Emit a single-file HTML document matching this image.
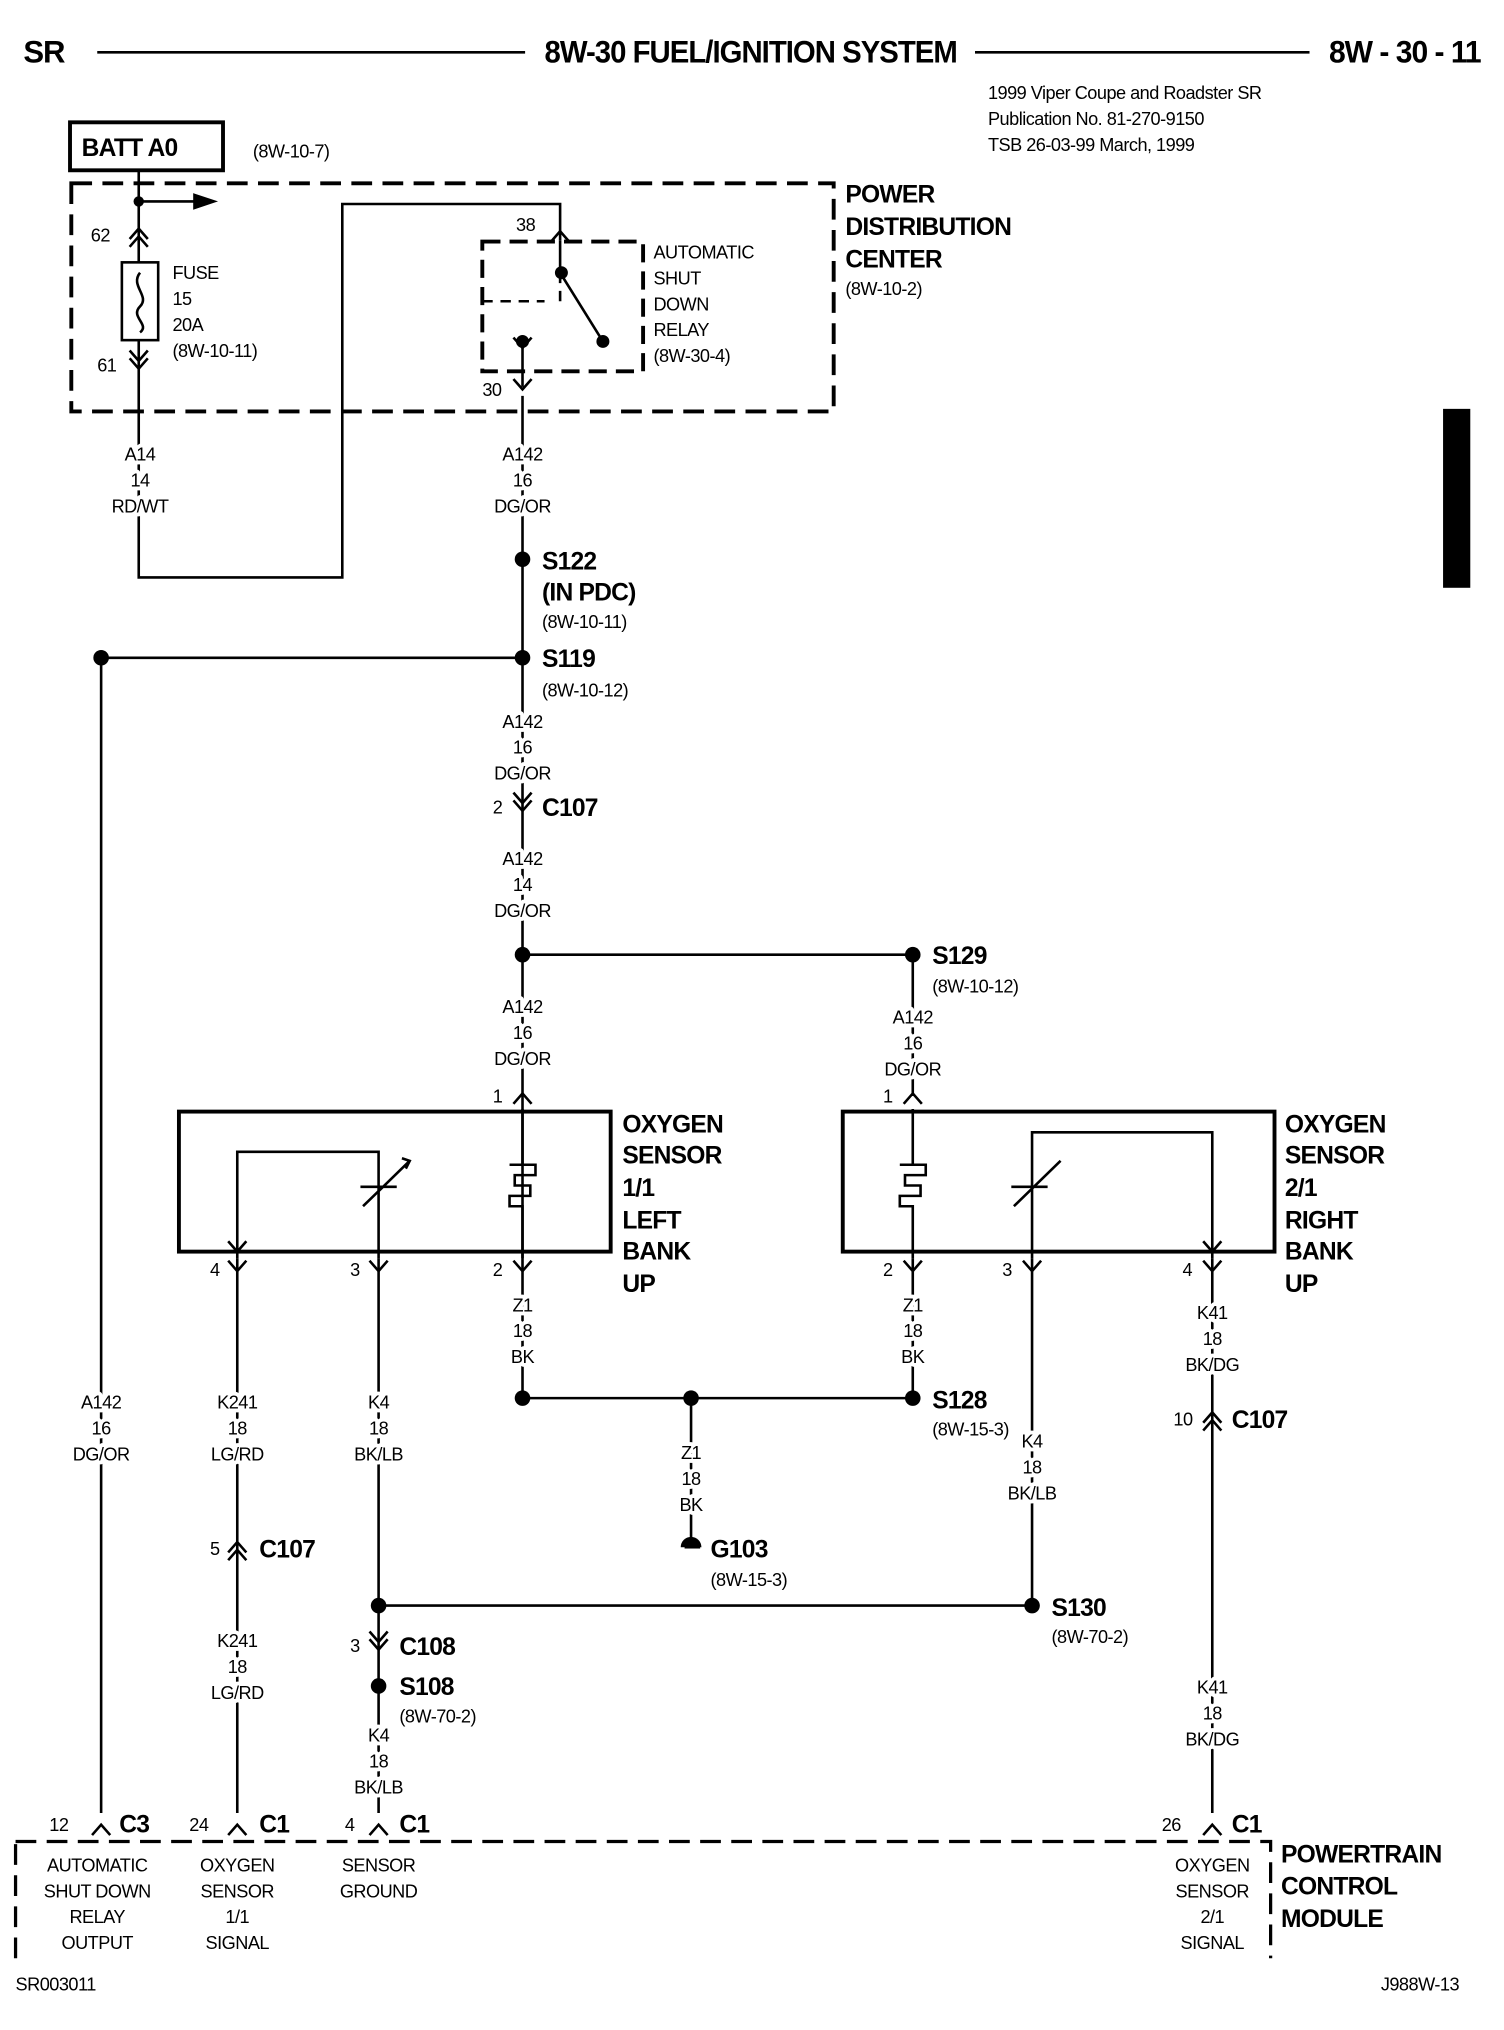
<!DOCTYPE html>
<html><head><meta charset="utf-8"><style>
html,body{margin:0;padding:0;background:#fff}
svg{display:block}
text{font-family:"Liberation Sans Narrow","Liberation Sans",sans-serif;fill:#000}
.s{font-size:14px;letter-spacing:-0.4px}
.c{text-anchor:middle;stroke:#fff;stroke-width:6px;paint-order:stroke;stroke-linejoin:round}
.b{font-weight:bold;font-size:19px;letter-spacing:-0.6px}
.h{font-weight:bold;font-size:24px;letter-spacing:-0.8px}
</style></head><body>
<svg width="1504" height="2030" viewBox="0 0 1160 1565" xmlns="http://www.w3.org/2000/svg">
<defs>
<g id="vd"><path d="M-7,-8 L0,0 L7,-8" fill="none" stroke="#000" stroke-width="2"/></g>
<g id="vu"><path d="M-7,8 L0,0 L7,8" fill="none" stroke="#000" stroke-width="2"/></g>
<g id="vdd"><path d="M-7,-10 L0,-2 L7,-10 M-7,-4 L0,4 L7,-4" fill="none" stroke="#000" stroke-width="2"/></g>
<g id="vuu"><path d="M-7,10 L0,2 L7,10 M-7,4 L0,-4 L7,4" fill="none" stroke="#000" stroke-width="2"/></g>
</defs>
<g stroke="#000" stroke-width="2" fill="none">
<line x1="75" y1="40" x2="405" y2="40"/><line x1="752" y1="40" x2="1010" y2="40"/>
<rect x="54" y="94" width="118" height="37" stroke-width="3"/>
<path d="M55,141 H643 V317 H55 Z" stroke-dasharray="16,8" stroke-width="3"/>
<path d="M372,186 H496 V286 H372 Z" stroke-dasharray="14,7" stroke-width="3"/>
<path d="M12,1420 H980 V1510 M12,1510 V1420" stroke-dasharray="16,8" stroke-width="2.5"/>
<path d="M107,131 V202 M107,262 V445 H264 V157 H432 V185"/>
<path d="M107,155 H155"/><path d="M150,150 L165,155 L150,160 Z" fill="#000"/>
<rect x="94" y="202" width="28" height="60"/>
<path d="M108,210 C100,220 116,228 108,236 C100,244 116,250 108,256"/>
<path d="M432,185 V210 L465,263"/>
<path d="M372,232 H420 M432,210 V232" stroke-dasharray="8,6"/>
<path d="M403,263 V298 M403,305 V1078"/>
<path d="M78,507 H403 M78,507 V1398"/>
<path d="M403,736 H704 V845"/>
<path d="M403,1078 H704 V970"/>
<path d="M533,1078 V1190"/>
<path d="M528,1193 H540"/>
<path d="M183,970 V1398 M292,970 V1398 M796,970 V1238 H292 M935,970 V1398"/>
<rect x="138" y="857" width="333" height="108" stroke-width="3"/>
<rect x="650" y="857" width="333" height="108" stroke-width="3"/>
<path d="M183,970 V888 H292 V970"/>
<path d="M403,855 V898 M393,898 H413 V906 H397 V914 H409 V922 H393 V930 H403 V970"/>
<path d="M704,855 V898 M694,898 H714 V906 H698 V914 H710 V922 H694 V930 H704 V970"/>
<path d="M280,930 L316,895 M278,915 H306"/><path d="M310,893 L316,895 L313,901" />
<path d="M935,970 V873 H796 V970"/>
<path d="M782,930 L818,895 M780,915 H808"/>
</g>
<rect x="1113" y="315" width="21" height="138" fill="#000"/>
<g fill="#000">
<circle cx="107" cy="155" r="4"/><circle cx="433" cy="210" r="5"/><circle cx="465" cy="263" r="5"/><circle cx="403" cy="263" r="5"/>
<circle cx="403" cy="431" r="6"/><circle cx="403" cy="507" r="6"/><circle cx="78" cy="507" r="6"/>
<circle cx="403" cy="736" r="6"/><circle cx="704" cy="736" r="6"/>
<circle cx="403" cy="1078" r="6"/><circle cx="533" cy="1078" r="6"/><circle cx="704" cy="1078" r="6"/>
<circle cx="796" cy="1238" r="6"/><circle cx="292" cy="1238" r="6"/><circle cx="292" cy="1300" r="6"/>
<path d="M525,1193 A8,8 0 0 1 541,1193 Z"/>
</g>
<use href="#vuu" x="107" y="180"/><use href="#vdd" x="107" y="280"/>
<use href="#vu" x="432" y="178"/><use href="#vd" x="403" y="300"/><use href="#vd" x="403" y="268"/>
<use href="#vdd" x="403" y="621"/>
<use href="#vu" x="403" y="843"/><use href="#vu" x="704" y="843"/>
<use href="#vd" x="183" y="980"/><use href="#vd" x="292" y="980"/><use href="#vd" x="403" y="980"/>
<use href="#vd" x="704" y="980"/><use href="#vd" x="796" y="980"/><use href="#vd" x="935" y="980"/>
<use href="#vd" x="183" y="965"/><use href="#vd" x="935" y="965"/>
<use href="#vuu" x="935" y="1093"/><use href="#vuu" x="183" y="1193"/><use href="#vdd" x="292" y="1268"/>
<use href="#vu" x="78" y="1407"/><use href="#vu" x="183" y="1407"/><use href="#vu" x="292" y="1407"/><use href="#vu" x="935" y="1407"/>
<text x="18" y="48" class="h">SR</text>
<text x="420" y="48" class="h" textLength="318" lengthAdjust="spacingAndGlyphs">8W-30 FUEL/IGNITION SYSTEM</text>
<text x="1025" y="48" class="h" textLength="117" lengthAdjust="spacingAndGlyphs">8W - 30 - 11</text>
<text x="762" y="76" class="s">1999 Viper Coupe and Roadster   SR</text>
<text x="762" y="96" class="s">Publication No. 81-270-9150</text>
<text x="762" y="116" class="s">TSB 26-03-99      March, 1999</text>
<text x="63" y="120" class="b">BATT A0</text>
<text x="195" y="121" class="s">(8W-10-7)</text>
<text x="652" y="156" class="b">POWER</text><text x="652" y="181" class="b">DISTRIBUTION</text><text x="652" y="206" class="b">CENTER</text>
<text x="652" y="227" class="s">(8W-10-2)</text>
<text x="70" y="186" class="s">62</text><text x="75" y="286" class="s">61</text>
<text x="133" y="215" class="s">FUSE</text><text x="133" y="235" class="s">15</text><text x="133" y="255" class="s">20A</text><text x="133" y="275" class="s">(8W-10-11)</text>
<text x="398" y="178" class="s">38</text><text x="372" y="305" class="s">30</text>
<text x="504" y="199" class="s">AUTOMATIC</text><text x="504" y="219" class="s">SHUT</text><text x="504" y="239" class="s">DOWN</text><text x="504" y="259" class="s">RELAY</text><text x="504" y="279" class="s">(8W-30-4)</text>
<text x="108" y="355" class="s c">A14</text><text x="108" y="375" class="s c">14</text><text x="108" y="395" class="s c">RD/WT</text>
<text x="403" y="355" class="s c">A142</text><text x="403" y="375" class="s c">16</text><text x="403" y="395" class="s c">DG/OR</text>
<text x="403" y="561" class="s c">A142</text><text x="403" y="581" class="s c">16</text><text x="403" y="601" class="s c">DG/OR</text>
<text x="403" y="667" class="s c">A142</text><text x="403" y="687" class="s c">14</text><text x="403" y="707" class="s c">DG/OR</text>
<text x="403" y="781" class="s c">A142</text><text x="403" y="801" class="s c">16</text><text x="403" y="821" class="s c">DG/OR</text>
<text x="704" y="789" class="s c">A142</text><text x="704" y="809" class="s c">16</text><text x="704" y="829" class="s c">DG/OR</text>
<text x="403" y="1011" class="s c">Z1</text><text x="403" y="1031" class="s c">18</text><text x="403" y="1051" class="s c">BK</text>
<text x="704" y="1011" class="s c">Z1</text><text x="704" y="1031" class="s c">18</text><text x="704" y="1051" class="s c">BK</text>
<text x="533" y="1125" class="s c">Z1</text><text x="533" y="1145" class="s c">18</text><text x="533" y="1165" class="s c">BK</text>
<text x="935" y="1017" class="s c">K41</text><text x="935" y="1037" class="s c">18</text><text x="935" y="1057" class="s c">BK/DG</text>
<text x="935" y="1306" class="s c">K41</text><text x="935" y="1326" class="s c">18</text><text x="935" y="1346" class="s c">BK/DG</text>
<text x="796" y="1116" class="s c">K4</text><text x="796" y="1136" class="s c">18</text><text x="796" y="1156" class="s c">BK/LB</text>
<text x="78" y="1086" class="s c">A142</text><text x="78" y="1106" class="s c">16</text><text x="78" y="1126" class="s c">DG/OR</text>
<text x="183" y="1086" class="s c">K241</text><text x="183" y="1106" class="s c">18</text><text x="183" y="1126" class="s c">LG/RD</text>
<text x="183" y="1270" class="s c">K241</text><text x="183" y="1290" class="s c">18</text><text x="183" y="1310" class="s c">LG/RD</text>
<text x="292" y="1086" class="s c">K4</text><text x="292" y="1106" class="s c">18</text><text x="292" y="1126" class="s c">BK/LB</text>
<text x="292" y="1343" class="s c">K4</text><text x="292" y="1363" class="s c">18</text><text x="292" y="1383" class="s c">BK/LB</text>
<text x="75" y="1443" class="s c">AUTOMATIC</text><text x="75" y="1463" class="s c">SHUT DOWN</text><text x="75" y="1483" class="s c">RELAY</text><text x="75" y="1503" class="s c">OUTPUT</text>
<text x="183" y="1443" class="s c">OXYGEN</text><text x="183" y="1463" class="s c">SENSOR</text><text x="183" y="1483" class="s c">1/1</text><text x="183" y="1503" class="s c">SIGNAL</text>
<text x="292" y="1443" class="s c">SENSOR</text><text x="292" y="1463" class="s c">GROUND</text>
<text x="935" y="1443" class="s c">OXYGEN</text><text x="935" y="1463" class="s c">SENSOR</text><text x="935" y="1483" class="s c">2/1</text><text x="935" y="1503" class="s c">SIGNAL</text>
<text x="418" y="439" class="b">S122</text><text x="418" y="463" class="b">(IN PDC)</text><text x="418" y="484" class="s">(8W-10-11)</text>
<text x="418" y="514" class="b">S119</text><text x="418" y="537" class="s">(8W-10-12)</text>
<text x="380" y="627" class="s">2</text><text x="418" y="629" class="b">C107</text>
<text x="719" y="743" class="b">S129</text><text x="719" y="765" class="s">(8W-10-12)</text>
<text x="380" y="850" class="s">1</text><text x="681" y="850" class="s">1</text>
<text x="480" y="873" class="b">OXYGEN</text><text x="480" y="897" class="b">SENSOR</text><text x="480" y="922" class="b">1/1</text><text x="480" y="947" class="b">LEFT</text><text x="480" y="971" class="b">BANK</text><text x="480" y="996" class="b">UP</text>
<text x="991" y="873" class="b">OXYGEN</text><text x="991" y="897" class="b">SENSOR</text><text x="991" y="922" class="b">2/1</text><text x="991" y="947" class="b">RIGHT</text><text x="991" y="971" class="b">BANK</text><text x="991" y="996" class="b">UP</text>
<text x="162" y="984" class="s">4</text><text x="270" y="984" class="s">3</text><text x="380" y="984" class="s">2</text>
<text x="681" y="984" class="s">2</text><text x="773" y="984" class="s">3</text><text x="912" y="984" class="s">4</text>
<text x="719" y="1086" class="b">S128</text><text x="719" y="1107" class="s">(8W-15-3)</text>
<text x="548" y="1201" class="b">G103</text><text x="548" y="1223" class="s">(8W-15-3)</text>
<text x="905" y="1099" class="s">10</text><text x="950" y="1101" class="b">C107</text>
<text x="162" y="1199" class="s">5</text><text x="200" y="1201" class="b">C107</text>
<text x="811" y="1246" class="b">S130</text><text x="811" y="1267" class="s">(8W-70-2)</text>
<text x="270" y="1274" class="s">3</text><text x="308" y="1276" class="b">C108</text>
<text x="308" y="1307" class="b">S108</text><text x="308" y="1328" class="s">(8W-70-2)</text>
<text x="38" y="1412" class="s">12</text><text x="92" y="1413" class="b">C3</text>
<text x="146" y="1412" class="s">24</text><text x="200" y="1413" class="b">C1</text>
<text x="266" y="1412" class="s">4</text><text x="308" y="1413" class="b">C1</text>
<text x="896" y="1412" class="s">26</text><text x="950" y="1413" class="b">C1</text>
<text x="988" y="1436" class="b">POWERTRAIN</text><text x="988" y="1461" class="b">CONTROL</text><text x="988" y="1486" class="b">MODULE</text>
<text x="12" y="1535" class="s">SR003011</text><text x="1065" y="1535" class="s">J988W-13</text>
</svg>
</body></html>
